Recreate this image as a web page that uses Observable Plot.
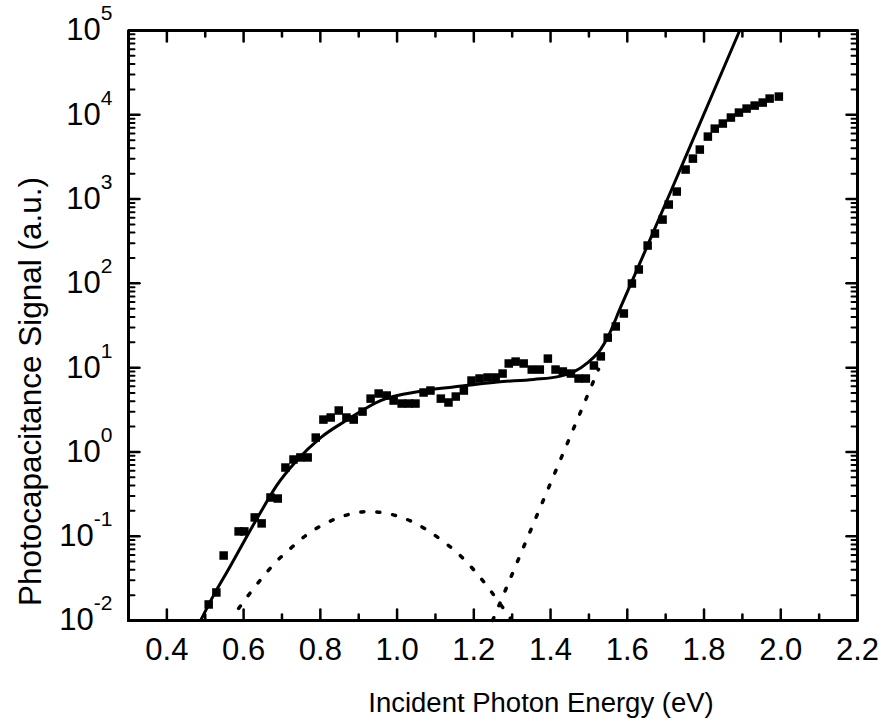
<!DOCTYPE html>
<html><head><meta charset="utf-8">
<script src="https://cdn.jsdelivr.net/npm/d3@7"></script>
<script src="https://cdn.jsdelivr.net/npm/@observablehq/plot@0.6"></script>
<style>
html,body{margin:0;padding:0;background:#fff;overflow:hidden;}
#chart{width:882px;height:722px;}
</style></head><body><div id="chart"></div>
<script>
// measured data (squares)
const energy = [0.509,0.529,0.548,0.587,0.602,0.629,0.647,0.670,0.689,0.709,0.730,0.748,0.767,0.788,0.808,0.827,0.848,0.868,0.887,0.910,0.931,0.952,0.973,0.991,1.012,1.030,1.048,1.069,1.087,1.114,1.134,1.153,1.174,1.194,1.215,1.236,1.257,1.275,1.291,1.309,1.330,1.351,1.372,1.393,1.413,1.432,1.453,1.473,1.492,1.513,1.531,1.549,1.570,1.591,1.612,1.630,1.653,1.672,1.692,1.708,1.729,1.752,1.771,1.789,1.810,1.828,1.849,1.870,1.891,1.911,1.932,1.953,1.971,1.995];
const signal = [0.0155,0.0215,0.059,0.114,0.114,0.167,0.142,0.288,0.28,0.653,0.813,0.86,0.86,1.48,2.42,2.56,3.10,2.56,2.42,3.01,4.29,4.93,4.67,4.07,3.75,3.75,3.75,5.07,5.35,4.29,3.86,4.54,5.35,7.03,7.43,7.64,7.64,8.51,11.2,11.8,11.2,9.49,9.49,12.8,9.49,9.0,8.51,7.43,7.43,10.6,13.6,22.7,30.8,43.9,99.6,146,281,390,571,861,1228,2239,3020,3864,5510,6850,7870,9270,10620,11850,12860,13960,15570,16440];
// total fit (solid line)
const fitEnergy = [0.488,0.522,0.566,0.605,0.644,0.686,0.735,0.801,0.866,0.957,1.061,1.147,1.262,1.356,1.426,1.460,1.497,1.531,1.549,1.583,1.65,1.75,1.893];
const fitSignal = [0.01,0.020,0.0447,0.0933,0.191,0.398,0.759,1.48,2.34,4.07,5.25,5.89,6.76,7.24,7.94,8.91,11.5,16.6,22.9,52.5,263,3020,100000];
// deep-level component (dotted)
const gaussEnergy = [0.587,0.616,0.647,0.683,0.722,0.762,0.803,0.842,0.884,0.923,0.96,1.00,1.04,1.08,1.12,1.16,1.20,1.236,1.265,1.296];
const gaussSignal = [0.0139,0.0209,0.0315,0.0488,0.0714,0.1019,0.134,0.162,0.186,0.196,0.191,0.174,0.148,0.117,0.087,0.0617,0.0398,0.0251,0.0166,0.0105];
// band-edge component (dotted)
const expEnergy = [1.249,1.525];
const expSignal = [0.01,9.55];

const xMajorTicks = [0.4,0.6,0.8,1.0,1.2,1.4,1.6,1.8,2.0,2.2];
const xMinorTicks = [0.5,0.7,0.9,1.1,1.3,1.5,1.7,1.9,2.1];
const yMajorTicks = [1e-2,1e-1,1e0,1e1,1e2,1e3,1e4,1e5];
const xTitle = "Incident Photon Energy (eV)";
const yTitle = "Photocapacitance Signal (a.u.)";

const yMinorTicks = yMajorTicks.slice(0,-1).flatMap(d => [2,3,4,5,6,7,8,9].map(k => k*d));

const W = 882, H = 722, mL = 128, mR = 25, mT = 30, mB = 102;
const frameH = H - mT - mB, frameW = W - mL - mR;
const xDom = [0.3, 2.2], yDom = [1e-2, 1e5];
// tick lengths (px) expressed in data units so the ticks point inward
const xLen = px => px * (xDom[1] - xDom[0]) / frameW;
const yFac = px => Math.pow(10, px * Math.log10(yDom[1] / yDom[0]) / frameH);

const pts = energy.map((x,i) => ({x, y: signal[i]}));
const fit = fitEnergy.map((x,i) => ({x, y: fitSignal[i]}));
const gauss = gaussEnergy.map((x,i) => ({x, y: gaussSignal[i]}));
const expo = expEnergy.map((x,i) => ({x, y: expSignal[i]}));

// tick segments (each tick is a two-point path)
function tickSegs(majorLen, minorLen) {
  const s = [];
  let id = 0;
  const addX = (x, len) => {
    s.push({id, x, y: yDom[0]}, {id, x, y: yDom[0] * yFac(len)}); id++;
    s.push({id, x, y: yDom[1]}, {id, x, y: yDom[1] / yFac(len)}); id++;
  };
  const addY = (y, len) => {
    s.push({id, x: xDom[0], y}, {id, x: xDom[0] + xLen(len), y}); id++;
    s.push({id, x: xDom[1], y}, {id, x: xDom[1] - xLen(len), y}); id++;
  };
  return {addX, addY, s};
}
const majorT = tickSegs();
xMajorTicks.forEach(x => majorT.addX(x, 11));
yMajorTicks.forEach(y => majorT.addY(y, 11));
const minorXT = tickSegs();
xMinorTicks.forEach(x => minorXT.addX(x, 6));
const minorYT = tickSegs();
yMinorTicks.forEach(y => minorYT.addY(y, 6));
const frameCorners = [
  {x: xDom[0], y: yDom[0]}, {x: xDom[1], y: yDom[0]}, {x: xDom[1], y: yDom[1]},
  {x: xDom[0], y: yDom[1]}, {x: xDom[0], y: yDom[0]}
];

const chart = Plot.plot({
  width: W, height: H,
  marginLeft: mL, marginRight: mR, marginTop: mT, marginBottom: mB,
  style: {fontFamily: "'Liberation Sans', Arial, sans-serif", background: "#fff", color: "#000"},
  x: {domain: xDom},
  y: {type: "log", domain: yDom},
  marks: [
    Plot.axisX({ticks: xMajorTicks, tickSize: 0, tickPadding: 17, fontSize: 31, tickFormat: d3.format(".1f"), label: null}),
    Plot.axisY({ticks: yMajorTicks, tickSize: 0, tickPadding: 16, fontSize: 31, tickFormat: d => String(Math.round(Math.log10(d))), label: null}),
    // ticks and frame drawn as paths
    Plot.line(majorT.s, {x: "x", y: "y", z: "id", stroke: "#000", strokeWidth: 2.5}),
    Plot.line(minorXT.s, {x: "x", y: "y", z: "id", stroke: "#000", strokeWidth: 2.5}),
    Plot.line(minorYT.s, {x: "x", y: "y", z: "id", stroke: "#000", strokeWidth: 2}),
    Plot.line(frameCorners, {x: "x", y: "y", stroke: "#000", strokeWidth: 3, strokeLinecap: "square", strokeLinejoin: "miter"}),
    // components
    Plot.line(gauss, {x: "x", y: "y", curve: "monotone-x", stroke: "#000", strokeWidth: 3.5, strokeDasharray: "3 13"}),
    Plot.line(expo, {x: "x", y: "y", stroke: "#000", strokeWidth: 3.5, strokeDasharray: "3 13"}),
    // fit
    Plot.line(fit, {x: "x", y: "y", curve: "monotone-x", stroke: "#000", strokeWidth: 3}),
    // data
    Plot.dot(pts, {x: "x", y: "y", symbol: "square", r: 4.8, fill: "#000"}),
    // titles
    Plot.text([yTitle], {text: d => d, frameAnchor: "left", dx: -98, dy: 66, rotate: -90, fontSize: 31.5, lineAnchor: "middle", textAnchor: "middle"}),
    Plot.text([xTitle], {text: d => d, frameAnchor: "bottom", dx: 48, dy: 83, fontSize: 27.5, lineAnchor: "middle", textAnchor: "middle"})
  ]
});

d3.select(chart).selectAll('g[aria-label="y-axis tick label"] text').each(function() {
  const e = this.textContent;
  const t = d3.select(this);
  t.text("10");
  t.append("tspan").attr("dy", "-20").attr("font-size", "21px").text(e);
});

document.getElementById("chart").appendChild(chart);
</script>
</body></html>
